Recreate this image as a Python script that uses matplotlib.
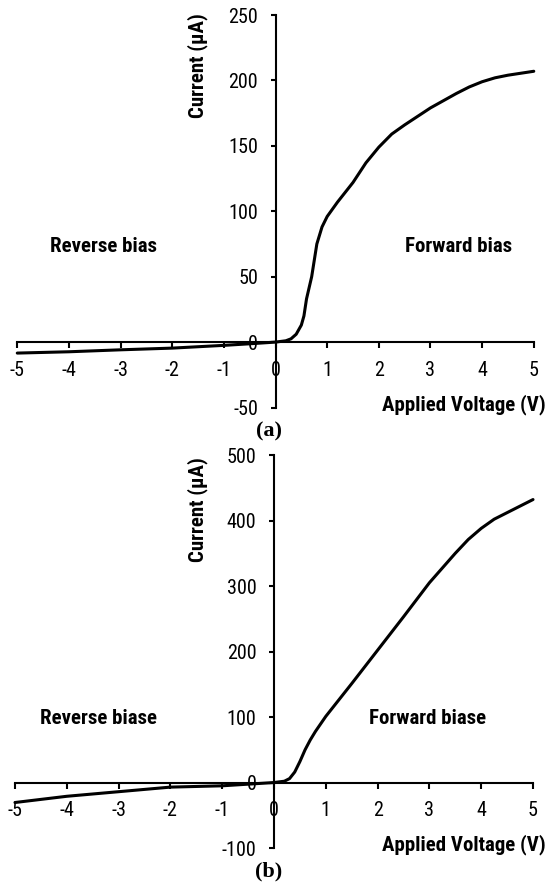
import matplotlib
matplotlib.use("Agg")
import matplotlib.pyplot as plt
from matplotlib import font_manager

# I-V characteristics of the two diodes
voltage_a = [-5, -4, -3, -2, -1, -0.5, 0, 0.2, 0.3, 0.4, 0.5, 0.55, 0.6, 0.7, 0.8,
             0.9, 1.0, 1.2, 1.5, 1.75, 2.0, 2.25, 2.5, 3.0, 3.5, 3.75, 4.0, 4.25,
             4.5, 5.0]
current_a = [-8.4, -7.4, -5.9, -4.6, -2.5, -1.3, 0, 1, 2.5, 6, 13, 20, 33, 50, 75,
             88, 96, 107, 122, 137, 149, 159, 166, 179, 190, 195, 199, 202,
             204, 207]

voltage_b = [-5, -4, -3, -2, -1, -0.5, 0, 0.2, 0.3, 0.4, 0.5, 0.6, 0.7, 0.8, 1.0,
             1.5, 2.0, 2.5, 3.0, 3.5, 3.75, 4.0, 4.25, 4.5, 5.0]
current_b = [-30.5, -21, -14, -7, -5, -2.5, 0, 2, 6, 16, 32, 50, 65, 78, 101,
             151, 202, 253, 305, 350, 371, 388, 402, 412, 432]

x_ticks = [-5, -4, -3, -2, -1, 0, 1, 2, 3, 4, 5]
y_ticks_a = [-50, 0, 50, 100, 150, 200, 250]
y_ticks_b = [-100, 0, 100, 200, 300, 400, 500]

panel_a_labels = ("Reverse bias", "Forward bias", "(a)")
panel_b_labels = ("Reverse biase", "Forward biase", "(b)")
x_title = "Applied Voltage (V)"
y_title = "Current (\u00b5A)"

# Prefer a narrow sans face; size is scaled so the text keeps the same width.
available = {f.name for f in font_manager.fontManager.ttflist}
for name, tick_fs, bold_fs in (("Liberation Sans Narrow", 15, 15),
                               ("Arial Narrow", 15, 15),
                               ("Roboto Condensed", 14.5, 15),
                               ("Liberation Sans", 12.8, 12.5)):
    if name in available:
        sans, TICK_FS, BOLD_FS = name, tick_fs, bold_fs
        break
serif = "Liberation Serif"

fig = plt.figure(figsize=(5.45, 8.83), dpi=100)
ax_a = fig.add_axes([0.0317, 0.5385, 0.9477, 0.4445])
ax_b = fig.add_axes([0.0275, 0.0396, 0.9505, 0.4451])


def style_axes(ax, yticks):
    ax.set_xlim(-5, 5)
    ax.set_ylim(yticks[0], yticks[-1])
    for s in ("top", "right"):
        ax.spines[s].set_visible(False)
    ax.spines["left"].set_position(("data", 0))
    ax.spines["bottom"].set_position(("data", 0))
    for s in ("left", "bottom"):
        ax.spines[s].set_linewidth(1.5)
        ax.spines[s].set_color("black")
    ax.set_xticks(x_ticks)
    ax.set_yticks(yticks)
    ax.set_xticklabels([str(t) for t in x_ticks])
    ax.set_yticklabels([str(t) for t in yticks])
    ax.tick_params(axis="x", direction="out", length=4.3, width=1.5, pad=9)
    ax.tick_params(axis="y", direction="out", length=3.6, width=1.5, pad=9)
    for lab in ax.get_xticklabels() + ax.get_yticklabels():
        lab.set_fontfamily(sans)
        lab.set_fontsize(TICK_FS)
    ax.patch.set_visible(False)


def annotate(ax, labels, rev_xy, fwd_xy, ylab_xy, xlab_xy, tag_xy):
    bold = dict(fontfamily=sans, fontsize=BOLD_FS, fontweight="bold",
                ha="center", va="center")
    ax.text(*rev_xy, labels[0], **bold)
    ax.text(*fwd_xy, labels[1], **bold)
    ax.text(*ylab_xy, y_title, rotation=90, **bold)
    ax.text(*xlab_xy, x_title, clip_on=False, **bold)
    ax.text(*tag_xy, labels[2], fontfamily=serif, fontsize=16, fontweight="bold",
            ha="center", va="center", clip_on=False)


style_axes(ax_a, y_ticks_a)
ax_a.plot(voltage_a, current_a, color="black", lw=2.2, solid_joinstyle="round",
          solid_capstyle="round", clip_on=False)
annotate(ax_a, panel_a_labels, (-3.33, 73), (3.54, 73), (-1.50, 211),
         (3.64, -48), (-0.13, -68))

style_axes(ax_b, y_ticks_b)
ax_b.plot(voltage_b, current_b, color="black", lw=2.2, solid_joinstyle="round",
          solid_capstyle="round", clip_on=False)
annotate(ax_b, panel_b_labels, (-3.39, 98), (2.96, 98), (-1.47, 416),
         (3.66, -95), (-0.10, -136))

fig.savefig("out.png", dpi=100)
